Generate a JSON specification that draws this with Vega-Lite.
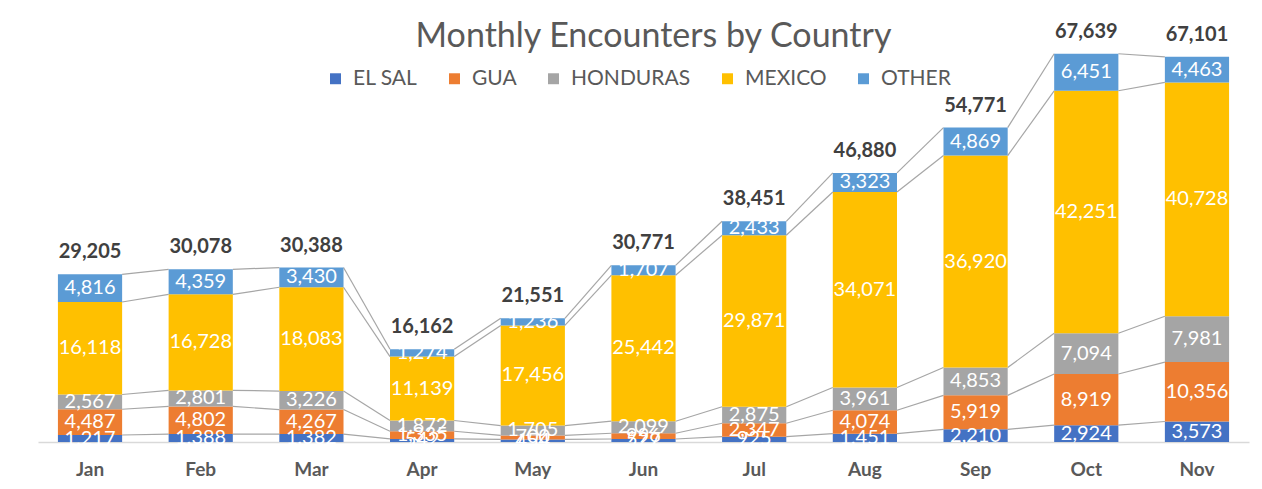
{
  "$schema": "https://vega.github.io/schema/vega-lite/v6.json",
  "autosize": "none",
  "padding": {"left": 38, "top": 100, "right": 13, "bottom": 47},
  "width": 1211,
  "height": 342,
  "background": "white",
  "config": {"view": {"stroke": null}, "font": "Lato"},
  "title": {"text": "Monthly Encounters by Country", "font": "Lato", "fontSize": 34, "fontWeight": "normal", "color": "#595959", "anchor": "middle", "offset": 14, "dy": 46, "dx": 10},
  "data": {"values": [
    {"month": "Jan", "m": 1, "country": "EL SAL", "value": 1217},
    {"month": "Jan", "m": 1, "country": "GUA", "value": 4487},
    {"month": "Jan", "m": 1, "country": "HONDURAS", "value": 2567},
    {"month": "Jan", "m": 1, "country": "MEXICO", "value": 16118},
    {"month": "Jan", "m": 1, "country": "OTHER", "value": 4816},
    {"month": "Feb", "m": 2, "country": "EL SAL", "value": 1388},
    {"month": "Feb", "m": 2, "country": "GUA", "value": 4802},
    {"month": "Feb", "m": 2, "country": "HONDURAS", "value": 2801},
    {"month": "Feb", "m": 2, "country": "MEXICO", "value": 16728},
    {"month": "Feb", "m": 2, "country": "OTHER", "value": 4359},
    {"month": "Mar", "m": 3, "country": "EL SAL", "value": 1382},
    {"month": "Mar", "m": 3, "country": "GUA", "value": 4267},
    {"month": "Mar", "m": 3, "country": "HONDURAS", "value": 3226},
    {"month": "Mar", "m": 3, "country": "MEXICO", "value": 18083},
    {"month": "Mar", "m": 3, "country": "OTHER", "value": 3430},
    {"month": "Apr", "m": 4, "country": "EL SAL", "value": 542},
    {"month": "Apr", "m": 4, "country": "GUA", "value": 1335},
    {"month": "Apr", "m": 4, "country": "HONDURAS", "value": 1872},
    {"month": "Apr", "m": 4, "country": "MEXICO", "value": 11139},
    {"month": "Apr", "m": 4, "country": "OTHER", "value": 1274},
    {"month": "May", "m": 5, "country": "EL SAL", "value": 454},
    {"month": "May", "m": 5, "country": "GUA", "value": 700},
    {"month": "May", "m": 5, "country": "HONDURAS", "value": 1705},
    {"month": "May", "m": 5, "country": "MEXICO", "value": 17456},
    {"month": "May", "m": 5, "country": "OTHER", "value": 1236},
    {"month": "Jun", "m": 6, "country": "EL SAL", "value": 527},
    {"month": "Jun", "m": 6, "country": "GUA", "value": 996},
    {"month": "Jun", "m": 6, "country": "HONDURAS", "value": 2099},
    {"month": "Jun", "m": 6, "country": "MEXICO", "value": 25442},
    {"month": "Jun", "m": 6, "country": "OTHER", "value": 1707},
    {"month": "Jul", "m": 7, "country": "EL SAL", "value": 925},
    {"month": "Jul", "m": 7, "country": "GUA", "value": 2347},
    {"month": "Jul", "m": 7, "country": "HONDURAS", "value": 2875},
    {"month": "Jul", "m": 7, "country": "MEXICO", "value": 29871},
    {"month": "Jul", "m": 7, "country": "OTHER", "value": 2433},
    {"month": "Aug", "m": 8, "country": "EL SAL", "value": 1451},
    {"month": "Aug", "m": 8, "country": "GUA", "value": 4074},
    {"month": "Aug", "m": 8, "country": "HONDURAS", "value": 3961},
    {"month": "Aug", "m": 8, "country": "MEXICO", "value": 34071},
    {"month": "Aug", "m": 8, "country": "OTHER", "value": 3323},
    {"month": "Sep", "m": 9, "country": "EL SAL", "value": 2210},
    {"month": "Sep", "m": 9, "country": "GUA", "value": 5919},
    {"month": "Sep", "m": 9, "country": "HONDURAS", "value": 4853},
    {"month": "Sep", "m": 9, "country": "MEXICO", "value": 36920},
    {"month": "Sep", "m": 9, "country": "OTHER", "value": 4869},
    {"month": "Oct", "m": 10, "country": "EL SAL", "value": 2924},
    {"month": "Oct", "m": 10, "country": "GUA", "value": 8919},
    {"month": "Oct", "m": 10, "country": "HONDURAS", "value": 7094},
    {"month": "Oct", "m": 10, "country": "MEXICO", "value": 42251},
    {"month": "Oct", "m": 10, "country": "OTHER", "value": 6451},
    {"month": "Nov", "m": 11, "country": "EL SAL", "value": 3573},
    {"month": "Nov", "m": 11, "country": "GUA", "value": 10356},
    {"month": "Nov", "m": 11, "country": "HONDURAS", "value": 7981},
    {"month": "Nov", "m": 11, "country": "MEXICO", "value": 40728},
    {"month": "Nov", "m": 11, "country": "OTHER", "value": 4463}
  ]},
  "layer": [
    {
      "transform": [
        {"window": [{"op": "sum", "field": "value", "as": "cum"}], "groupby": ["month"], "sort": [{"field": "country", "order": "ascending"}], "frame": [null, 0]},
        {"window": [{"op": "lead", "field": "cum", "as": "ncum"}, {"op": "lead", "field": "month", "as": "nm"}], "groupby": ["country"], "sort": [{"field": "m", "order": "ascending"}]},
        {"filter": "isValid(datum.nm)"}
      ],
      "mark": {"type": "rule", "color": "#A6A6A6", "strokeWidth": 1.2},
      "encoding": {
        "x": {"field": "month", "type": "nominal", "bandPosition": 1, "title": null,
          "scale": {"domain": ["Jan","Feb","Mar","Apr","May","Jun","Jul","Aug","Sep","Oct","Nov"], "paddingInner": 0.42, "paddingOuter": 0.18},
          "axis": {"labelAngle": 0, "labelFont": "Lato", "labelFontSize": 19, "labelFontWeight": "bold", "labelColor": "#595959", "labelPadding": 18, "ticks": false, "domainColor": "#D9D9D9", "domainWidth": 1.5}},
        "x2": {"field": "nm", "bandPosition": 0},
        "y": {"field": "cum", "type": "quantitative", "scale": {"domain": [0, 59582], "nice": false, "zero": true}, "axis": null},
        "y2": {"field": "ncum"}
      }
    },
    {
      "mark": {"type": "bar"},
      "encoding": {
        "x": {"field": "month", "type": "nominal"},
        "y": {"field": "value", "type": "quantitative", "aggregate": "sum", "stack": "zero"},
        "color": {"field": "country", "type": "nominal",
          "scale": {"domain": ["EL SAL","GUA","HONDURAS","MEXICO","OTHER"], "range": ["#4472C4","#ED7D31","#A5A5A5","#FFC000","#5B9BD5"]},
          "legend": {"title": null, "orient": "none", "legendX": 287, "legendY": -32, "direction": "horizontal", "symbolType": "square", "symbolSize": 120, "symbolStrokeWidth": 0, "labelFont": "Lato", "labelFontSize": 21, "labelColor": "#595959", "columnPadding": 26, "labelOffset": 7}},
        "order": {"field": "country", "sort": "ascending"}
      }
    },
    {
      "mark": {"type": "text", "color": "white", "font": "Lato", "fontSize": 20, "baseline": "middle"},
      "encoding": {
        "x": {"field": "month", "type": "nominal"},
        "y": {"field": "value", "type": "quantitative", "aggregate": "sum", "stack": "zero", "bandPosition": 0.5},
        "detail": {"field": "country"},
        "order": {"field": "country", "sort": "ascending"},
        "text": {"field": "value", "aggregate": "sum", "type": "quantitative", "format": ","}
      }
    },
    {
      "mark": {"type": "text", "color": "#404040", "font": "Lato", "fontSize": 20, "fontWeight": "bold", "baseline": "bottom", "dy": -12},
      "encoding": {
        "x": {"field": "month", "type": "nominal"},
        "y": {"field": "value", "type": "quantitative", "aggregate": "sum"},
        "text": {"field": "value", "aggregate": "sum", "type": "quantitative", "format": ","}
      }
    }
  ]
}
